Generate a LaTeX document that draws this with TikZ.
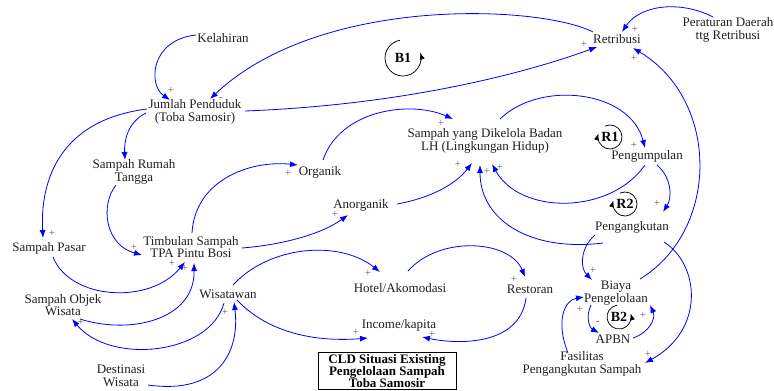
\documentclass[tikz,border=0pt]{standalone}
\usepackage{fontspec}
\setmainfont{Liberation Serif}
\usetikzlibrary{arrows.meta,calc}
\definecolor{linkblue}{RGB}{0,0,255}
\definecolor{signgray}{RGB}{95,95,95}
\tikzset{
  var/.style={font=\fontsize{13}{12.5}\selectfont, align=center, inner sep=0pt, text=black!88},
  link/.style={draw=linkblue, line width=0.8pt, -{Latex[length=8pt,width=6pt]}},
  sgn/.style={font=\fontsize{11}{11}\selectfont, text=signgray, inner sep=0pt},
  loopmark/.style={draw=black, line width=0.75pt, -{Latex[length=7pt,width=5pt]}},
  looplabel/.style={font=\fontsize{14}{14}\selectfont\bfseries, inner sep=0pt},
  titlebox/.style={draw=black, line width=0.9pt, font=\fontsize{13}{12}\selectfont\bfseries,
    align=center, inner sep=0pt, minimum width=138pt, minimum height=37pt},
}
\begin{document}
\begin{tikzpicture}[x=1pt,y=-1pt]
\useasboundingbox (0,0) rectangle (774,391);

% variables
\node[var] (kel)   at (223,38)  {Kelahiran};
\node[var] (ret)   at (617,39)  {Retribusi};
\node[var] (perda) at (728,30)  {Peraturan Daerah\\ttg Retribusi};
\node[var] (jp)    at (195,112) {Jumlah Penduduk\\(Toba Samosir)};
\node[var] (sd)    at (485,141) {Sampah yang Dikelola Badan\\LH (Lingkungan Hidup)};
\node[var] (peng)  at (647,156) {Pengumpulan};
\node[var] (srt)   at (134,172) {Sampah Rumah\\Tangga};
\node[var] (org)   at (320,172) {Organik};
\node[var] (anorg) at (361,205) {Anorganik};
\node[var] (pang)  at (632,227) {Pengangkutan};
\node[var] (tim)   at (191,247) {Timbulan Sampah\\TPA Pintu Bosi};
\node[var] (pasar) at (49,248)  {Sampah Pasar};
\node[var] (hotel) at (400,288) {Hotel/Akomodasi};
\node[var] (rest)  at (530,289) {Restoran};
\node[var] (wis)   at (228,294) {Wisatawan};
\node[var] (sow)   at (63,305)  {Sampah Objek\\Wisata};
\node[var] (biaya) at (616,293) {Biaya\\Pengelolaan};
\node[var] (inc)   at (399,325) {Income/kapita};
\node[var] (apbn)  at (613,339) {APBN};
\node[var] (fas)   at (582,364) {Fasilitas\\Pengangkutan Sampah};
\node[var] (dest)  at (121,376) {Destinasi\\Wisata};
\node[titlebox] (ttl) at (387,371) {CLD Situasi Existing\\Pengelolaan Sampah\\Toba Samosir};

% causal links
\draw[link] ($(kel)+(-27,-3)$) .. controls (150,40) and (148,85) .. ($(jp)+(-25,-12)$);
\draw[link] ($(ret)+(-24,-7)$) .. controls (540,5) and (320,-5) .. ($(jp)+(15,-13)$);
\draw[link] ($(jp)+(50,-1)$) .. controls (400,105) and (520,75) .. ($(ret)+(-20,8)$);
\draw[link] ($(perda)+(-15,-13)$) .. controls (680,0) and (640,5) .. ($(ret)+(5,-7)$);
\draw[link] ($(biaya)+(24,-14)$) .. controls (720,230) and (720,100) .. ($(ret)+(16,9)$);
\draw[link] ($(jp)+(-49,1)$) .. controls (128,122) and (124,140) .. ($(srt)+(-9,-12)$);
\draw[link] ($(jp)+(-48,-3)$) .. controls (60,120) and (40,180) .. ($(pasar)+(-6,-10)$);
\draw[link] ($(srt)+(-18,13)$) .. controls (100,205) and (105,245) .. ($(tim)+(-49,8)$);
\draw[link] ($(pasar)+(4,9)$) .. controls (70,300) and (150,305) .. ($(tim)+(-6,15)$);
\draw[link] ($(sow)+(17,14)$) .. controls (130,335) and (195,320) .. ($(tim)+(3,16)$);
\draw[link] ($(wis)+(-4,9)$) .. controls (210,355) and (110,365) .. ($(sow)+(9,14)$);
\draw[link] ($(dest)+(27,9)$) .. controls (220,395) and (240,350) .. ($(wis)+(6,8)$);
\draw[link] ($(wis)+(5,-9)$) .. controls (270,245) and (340,240) .. ($(hotel)+(-20,-16)$);
\draw[link] ($(wis)+(9,6)$) .. controls (270,335) and (320,342) .. ($(inc)+(-31,13)$);
\draw[link] ($(hotel)+(8,-17)$) .. controls (440,235) and (510,240) .. ($(rest)+(-5,-12)$);
\draw[link] ($(rest)+(-4,9)$) .. controls (520,345) and (460,345) .. ($(inc)+(23,12)$);
\draw[link] ($(tim)+(1,-14)$) .. controls (195,180) and (250,160) .. ($(org)+(-22,-7)$);
\draw[link] ($(tim)+(51,1)$) .. controls (280,245) and (320,235) .. ($(anorg)+(-13,10)$);
\draw[link] ($(org)+(3,-12)$) .. controls (340,110) and (410,100) .. ($(sd)+(-32,-22)$);
\draw[link] ($(anorg)+(36,-1)$) .. controls (430,198) and (455,185) .. ($(sd)+(-13,22)$);
\draw[link] ($(sd)+(15,-22)$) .. controls (540,80) and (630,90) .. ($(peng)+(-2,-8)$);
\draw[link] ($(peng)+(10,9)$) .. controls (672,178) and (672,198) .. ($(pang)+(31,-15)$);
\draw[link] ($(peng)+(-2,9)$) .. controls (610,215) and (520,215) .. ($(sd)+(7,23)$);
\draw[link] ($(pang)+(-29,16)$) .. controls (530,252) and (480,220) .. ($(sd)+(-5,24)$);
\draw[link] ($(pang)+(-37,8)$) .. controls (580,248) and (580,268) .. ($(biaya)+(-24,-13)$);
\draw[link] ($(pang)+(32,15)$) .. controls (700,265) and (705,330) .. ($(fas)+(63,-1)$);
\draw[link] ($(fas)+(-14,-11)$) .. controls (555,320) and (565,300) .. ($(biaya)+(-32,4)$);
\draw[link] ($(biaya)+(-25,12)$) .. controls (585,318) and (590,328) .. ($(apbn)+(-14,-6)$);
\draw[link] ($(apbn)+(20,-1)$) .. controls (650,332) and (656,318) .. ($(biaya)+(34,12)$);

% link polarities
\node[sgn] (s1)  at (171,90)  {+};
\node[sgn] (s2)  at (221,99)  {-};
\node[sgn] (s3)  at (584,44)  {+};
\node[sgn] (s4)  at (635,29)  {+};
\node[sgn] (s5)  at (634,58)  {+};
\node[sgn] (s7)  at (52,233)  {+};
\node[sgn] (s8)  at (134,247) {+};
\node[sgn] (s9)  at (172,263) {+};
\node[sgn] (s10) at (185,268) {+};
\node[sgn] (s11) at (81,322)  {+};
\node[sgn] (s12) at (225,312) {+};
\node[sgn] (s13) at (368,273) {+};
\node[sgn] (s14) at (356,332) {+};
\node[sgn] (s15) at (514,279) {+};
\node[sgn] (s16) at (432,334) {+};
\node[sgn] (s17) at (288,173) {+};
\node[sgn] (s18) at (335,214) {+};
\node[sgn] (s19) at (441,123) {+};
\node[sgn] (s20) at (458,164) {+};
\node[sgn] (s21) at (634,145) {+};
\node[sgn] (s22) at (657,203) {+};
\node[sgn] (s23) at (500,167) {+};
\node[sgn] (s24) at (487,171) {+};
\node[sgn] (s25) at (593,270) {+};
\node[sgn] (s26) at (648,354) {+};
\node[sgn] (s27) at (580,309) {+};
\node[sgn] (s28) at (598,323) {-};
\node[sgn] (s29) at (643,315) {+};

% loop identifiers
\node[looplabel] (b1) at (403,58)  {B1};
\draw[loopmark] ($(b1)+(100:18pt)$) arc[start angle=100, end angle=378, radius=18pt];
\node[looplabel] (r1) at (610,137) {R1};
\draw[loopmark] ($(r1)+(115:12pt)$) arc[start angle=115, end angle=-198, radius=12pt];
\node[looplabel] (r2) at (625,204) {R2};
\draw[loopmark] ($(r2)+(115:12pt)$) arc[start angle=115, end angle=-198, radius=12pt];
\node[looplabel] (b2) at (619,317) {B2};
\draw[loopmark] ($(b2)+(100:12pt)$) arc[start angle=100, end angle=378, radius=12pt];
\end{tikzpicture}
\end{document}
